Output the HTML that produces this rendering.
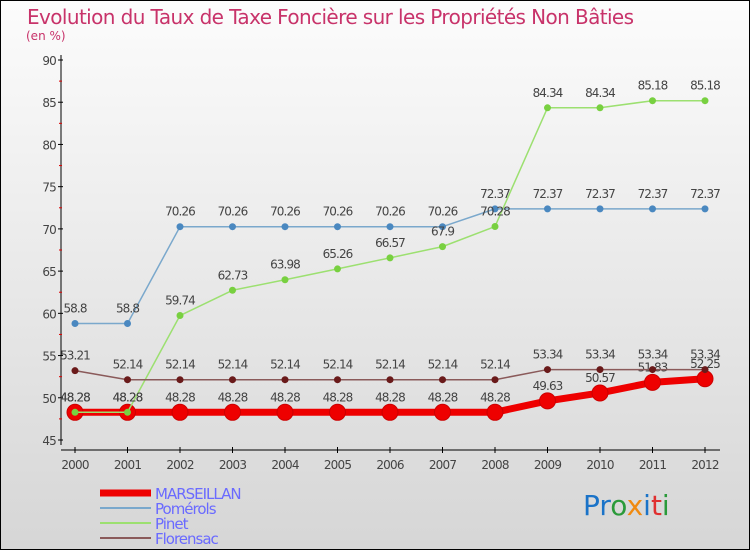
<!DOCTYPE html>
<html><head><meta charset="utf-8"><style>
body{margin:0}
svg{display:block;font-family:"DejaVu Sans","Liberation Sans",sans-serif}
</style></head><body>
<svg width="750" height="550" viewBox="0 0 750 550">
<defs><linearGradient id="bg" x1="0" y1="0" x2="0" y2="1"><stop offset="0" stop-color="#fcfcfc"/><stop offset="1" stop-color="#d6d6d6"/></linearGradient></defs>
<rect x="0.5" y="0.5" width="749" height="549" fill="url(#bg)" stroke="#000"/>
<text x="27" y="24" font-size="20" fill="#c8336a" letter-spacing="-0.6">Evolution du Taux de Taxe Foncière sur les Propriétés Non Bâties</text>
<text x="26" y="40" font-size="12" fill="#c8336a">(en %)</text>
<g id="axes"></g>
<g id="series"></g>
<g id="legend"></g>
<text x="583" y="515" font-size="28" font-family="'DejaVu Sans',sans-serif"><tspan fill="#1a73c8">Pr</tspan><tspan fill="#2a9a3a">o</tspan><tspan fill="#f08a10">x</tspan><tspan fill="#1a73c8">i</tspan><tspan fill="#e03030">t</tspan><tspan fill="#2a9a3a">i</tspan></text>
</svg>
<script>
const years=[2000,2001,2002,2003,2004,2005,2006,2007,2008,2009,2010,2011,2012];
const yTicks=[45,50,55,60,65,70,75,80,85,90];
const marseillan=[48.28,48.28,48.28,48.28,48.28,48.28,48.28,48.28,48.28,49.63,50.57,51.83,52.25];
const pomerols=[58.8,58.8,70.26,70.26,70.26,70.26,70.26,70.26,72.37,72.37,72.37,72.37,72.37];
const pinet=[48.28,48.28,59.74,62.73,63.98,65.26,66.57,67.9,70.28,84.34,84.34,85.18,85.18];
const florensac=[53.21,52.14,52.14,52.14,52.14,52.14,52.14,52.14,52.14,53.34,53.34,53.34,53.34];
const NS='http://www.w3.org/2000/svg';
const X=i=>75+i*52.5;
const Y=v=>60+(90-v)*(380/45);
function mk(tag,at,parent,txt){const e=document.createElementNS(NS,tag);for(const k in at)e.setAttribute(k,at[k]);if(txt!==undefined)e.textContent=txt;parent.appendChild(e);return e;}
const ax=document.getElementById('axes');
let e=mk('line',{x1:61,y1:55,x2:61,y2:445,stroke:'#000'},ax);


e=mk('line',{x1:61,y1:450,x2:720,y2:450,stroke:'#000'},ax);


yTicks.forEach(t=>{
  mk('line',{x1:58,y1:Y(t),x2:63,y2:Y(t),stroke:'#000'},ax);
  e=mk('text',{x:56,y:Y(t)+5,'font-size':12,fill:'#444','text-anchor':'end','letter-spacing':'-0.8'},ax,String(t));
  
  
  if(t<90)mk('line',{x1:59,y1:Y(t+2.5),x2:62,y2:Y(t+2.5),stroke:'#d00'},ax);
});
years.forEach((y,i)=>{
  mk('line',{x1:X(i),y1:447,x2:X(i),y2:453,stroke:'#000'},ax);
  e=mk('text',{x:X(i),y:469,'font-size':12,fill:'#444','text-anchor':'middle','letter-spacing':'-0.8'},ax,String(y));
  
  
});
const sg=document.getElementById('series');
const series=[
 {name:'marseillan',data:marseillan,color:'#ee0000',w:7,r:8,pt:'#ee0000'},
 {name:'pomerols',data:pomerols,color:'#7aa8cc',w:1.5,r:3.5,pt:'#4a88c0'},
 {name:'pinet',data:pinet,color:'#9ce070',w:1.5,r:3.5,pt:'#78d040'},
 {name:'florensac',data:florensac,color:'#8a5a5a',w:1.5,r:3.5,pt:'#6a1a1a'}];
series.forEach(s=>{
  const g=mk('g',{},sg);
  
  
  e=mk('polyline',{points:s.data.map((v,i)=>X(i)+','+Y(v)).join(' '),fill:'none',stroke:s.color,'stroke-width':s.w,'stroke-linejoin':'round'},g);
  
  
  s.data.forEach((v,i)=>{
    e=mk('circle',{cx:X(i),cy:Y(v),r:s.r,fill:s.pt,stroke:s.name==='marseillan'?'#c00':'none'},g);
    
    
    e=mk('text',{x:X(i),y:Y(v)-11,'font-size':12,fill:'#444','text-anchor':'middle','letter-spacing':'-0.9'},g,String(v));
    
    
  });
});
const lg=document.getElementById('legend');
const leg=[['MARSEILLAN','#ee0000',7],['Pomérols','#7aa8cc',2],['Pinet','#9ce070',2],['Florensac','#8a5a5a',2]];
leg.forEach((l,i)=>{
  const y=493+i*15;
  const g=mk('g',{},lg);
  
  
  mk('line',{x1:100,y1:y,x2:151,y2:y,stroke:l[1],'stroke-width':l[2]},g);
  mk('text',{x:155,y:y+6,'font-size':15,fill:'#6a6aff','letter-spacing':'-1'},g,l[0]);
});
</script>
</body></html>
